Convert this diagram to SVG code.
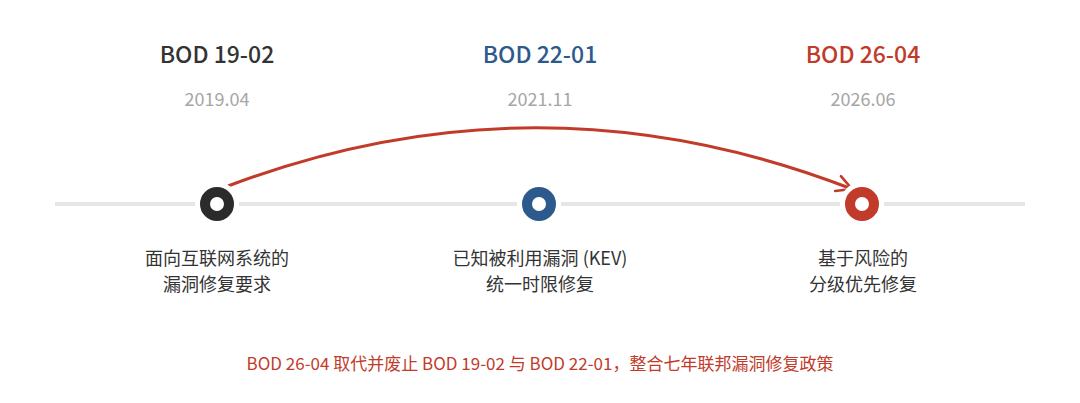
<svg xmlns="http://www.w3.org/2000/svg" width="1080" height="403" viewBox="0 0 1080 403">
<style>
text{font-family:"Noto Sans CJK SC","Noto Sans",sans-serif;text-anchor:middle}
.t{font-size:23px;font-weight:500}
.d{font-size:18px;fill:#a6a6a6}
.l{font-size:18px;fill:#333}
.halo{fill:#fff}
.ring{fill:#fff;stroke-width:10}
</style>
<defs>
<marker id="ah" viewBox="0 0 20 20" refX="17" refY="10" markerWidth="20" markerHeight="20" markerUnits="userSpaceOnUse" orient="auto">
<path d="M2,2 L17,10 L2,18" fill="none" stroke="#c23b2a" stroke-width="2.6" stroke-linecap="round" stroke-linejoin="round"/>
</marker>
</defs>
<rect width="1080" height="403" fill="#fff"/>
<line x1="55" y1="204" x2="1025" y2="204" stroke="#e6e6e6" stroke-width="4"/>
<g id="connectors">
<path d="M228,186 Q540,68 852,189" fill="none" stroke="#c23b2a" stroke-width="3" marker-end="url(#ah)"/>
</g>
<g id="n1">
<text class="t" x="217" y="63" fill="#333">BOD 19-02</text>
<text class="d" x="217" y="106">2019.04</text>
<circle class="halo" cx="217" cy="204" r="22"/>
<circle class="ring" cx="217" cy="204" r="12" stroke="#2b2b2b"/>
<text class="l" x="217" y="265">面向互联网系统的</text>
<text class="l" x="217" y="291">漏洞修复要求</text>
</g>
<g id="n2">
<text class="t" x="540" y="63" fill="#2d5a8c">BOD 22-01</text>
<text class="d" x="540" y="106">2021.11</text>
<circle class="halo" cx="539" cy="204" r="22"/>
<circle class="ring" cx="539" cy="204" r="12" stroke="#2d5a8c"/>
<text class="l" x="540" y="265">已知被利用漏洞 (KEV)</text>
<text class="l" x="540" y="291">统一时限修复</text>
</g>
<g id="n3">
<text class="t" x="863" y="63" fill="#c23b2a">BOD 26-04</text>
<text class="d" x="863" y="106">2026.06</text>
<circle class="halo" cx="862" cy="204" r="22"/>
<circle class="ring" cx="862" cy="204" r="12" stroke="#c23b2a"/>
<text class="l" x="863" y="265">基于风险的</text>
<text class="l" x="863" y="291">分级优先修复</text>
</g>
<g id="note">
<text x="540" y="370" font-size="17" fill="#c23b2a">BOD 26-04 取代并废止 BOD 19-02 与 BOD 22-01，整合七年联邦漏洞修复政策</text>
</g>
</svg>
